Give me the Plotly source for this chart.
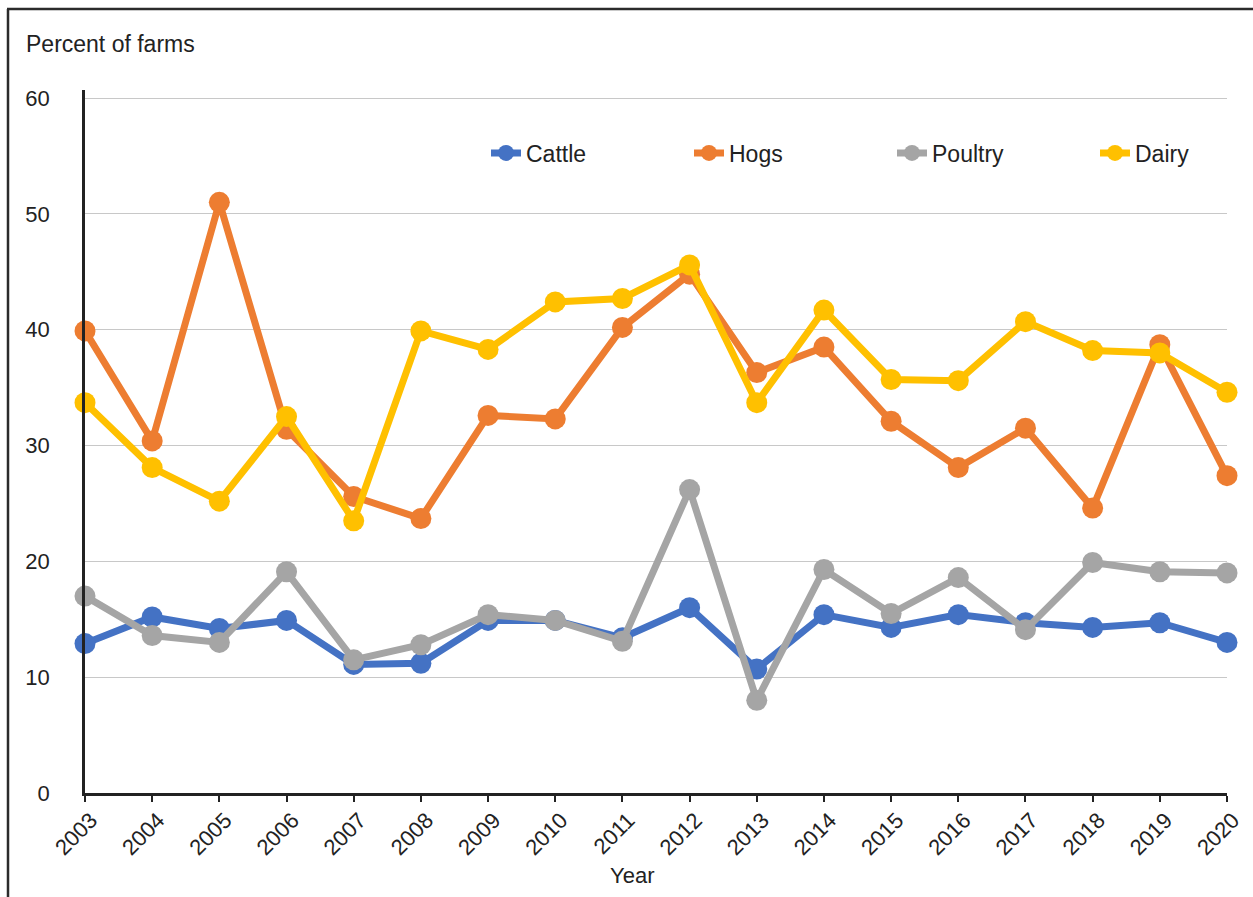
import plotly.graph_objects as go

# Share of farms by livestock type, 2003-2020
years = list(range(2003, 2021))
cattle = [12.9, 15.2, 14.2, 14.9, 11.1, 11.2, 14.9, 14.9, 13.4, 16.0,
          10.7, 15.4, 14.3, 15.4, 14.7, 14.3, 14.7, 13.0]
hogs = [39.9, 30.4, 51.0, 31.4, 25.6, 23.7, 32.6, 32.3, 40.2, 44.8,
        36.3, 38.5, 32.1, 28.1, 31.5, 24.6, 38.7, 27.4]
poultry = [17.0, 13.6, 13.0, 19.1, 11.5, 12.8, 15.4, 14.9, 13.1, 26.2,
           8.0, 19.3, 15.5, 18.6, 14.1, 19.9, 19.1, 19.0]
dairy = [33.7, 28.1, 25.2, 32.5, 23.5, 39.9, 38.3, 42.4, 42.7, 45.6,
         33.7, 41.7, 35.7, 35.6, 40.7, 38.2, 38.0, 34.6]

series = [
    ("Cattle", cattle, "#4472C4"),
    ("Hogs", hogs, "#ED7D31"),
    ("Poultry", poultry, "#A5A5A5"),
    ("Dairy", dairy, "#FFC000"),
]

W, H = 1253, 897
ML, MR, MT, MB = 85, 26, 90, 104
Y_TOP = 60.7

FONT = "Liberation Sans, Arial, sans-serif"
TEXT = "#222222"

fig = go.Figure()
for name, vals, color in series:
    fig.add_trace(go.Scatter(
        x=years, y=vals, name=name, mode="lines+markers",
        line=dict(color=color, width=7),
        marker=dict(color=color, size=21),
        cliponaxis=False,
    ))

pw = W - ML - MR
ph = H - MT - MB


def px_to_paper_x(px):
    return (px - ML) / pw


def px_to_paper_y(py):
    return (H - MB - py) / ph


frame_color = "#2b2b2b"
shapes = [
    dict(type="line", xref="paper", yref="paper",
         x0=px_to_paper_x(8), x1=px_to_paper_x(8),
         y0=px_to_paper_y(9), y1=px_to_paper_y(H + 5),
         line=dict(color=frame_color, width=2.5)),
    dict(type="line", xref="paper", yref="paper",
         x0=px_to_paper_x(7), x1=px_to_paper_x(W + 5),
         y0=px_to_paper_y(9), y1=px_to_paper_y(9),
         line=dict(color=frame_color, width=2.5)),
]

fig.update_layout(
    width=W, height=H, autosize=False,
    margin=dict(l=ML, r=MR, t=MT, b=MB, pad=0, autoexpand=False),
    paper_bgcolor="white", plot_bgcolor="white",
    font=dict(family=FONT, color=TEXT, size=20),
    showlegend=True,
    legend=dict(
        orientation="h", x=px_to_paper_x(486), y=px_to_paper_y(153),
        xanchor="left", yanchor="middle",
        font=dict(size=23, family=FONT, color=TEXT),
        itemwidth=30, entrywidth=158, entrywidthmode="pixels",
        bgcolor="rgba(0,0,0,0)",
    ),
    shapes=shapes,
    annotations=[
        dict(text="Percent of farms", xref="paper", yref="paper",
             x=px_to_paper_x(24), y=px_to_paper_y(44),
             xanchor="left", yanchor="middle", showarrow=False,
             font=dict(size=23, family=FONT, color=TEXT)),
        dict(text="Year", xref="paper", yref="paper",
             x=px_to_paper_x(632), y=px_to_paper_y(875),
             xanchor="center", yanchor="middle", showarrow=False,
             font=dict(size=22, family=FONT, color=TEXT)),
    ],
)

fig.update_xaxes(
    range=[2003, 2020], tickmode="array", tickvals=years,
    ticktext=[str(y) for y in years], tickangle=-45,
    showgrid=False, zeroline=False, automargin=False,
    showline=True, linecolor=TEXT, linewidth=2.5,
    ticks="outside", ticklen=6, tickwidth=2, tickcolor=TEXT,
    ticklabelshift=6, ticklabelstandoff=-3,
    tickfont=dict(size=22, family=FONT, color=TEXT),
)
fig.update_yaxes(
    range=[0, Y_TOP], tickmode="array", tickvals=[0, 10, 20, 30, 40, 50, 60],
    showgrid=True, gridcolor="#c8c8c8", gridwidth=1.2,
    zeroline=False, showline=True, linecolor=TEXT, linewidth=2.5,
    ticks="", ticklabelstandoff=28, automargin=False,
    tickfont=dict(size=22, family=FONT, color=TEXT),
)

fig.write_html("out.html")
